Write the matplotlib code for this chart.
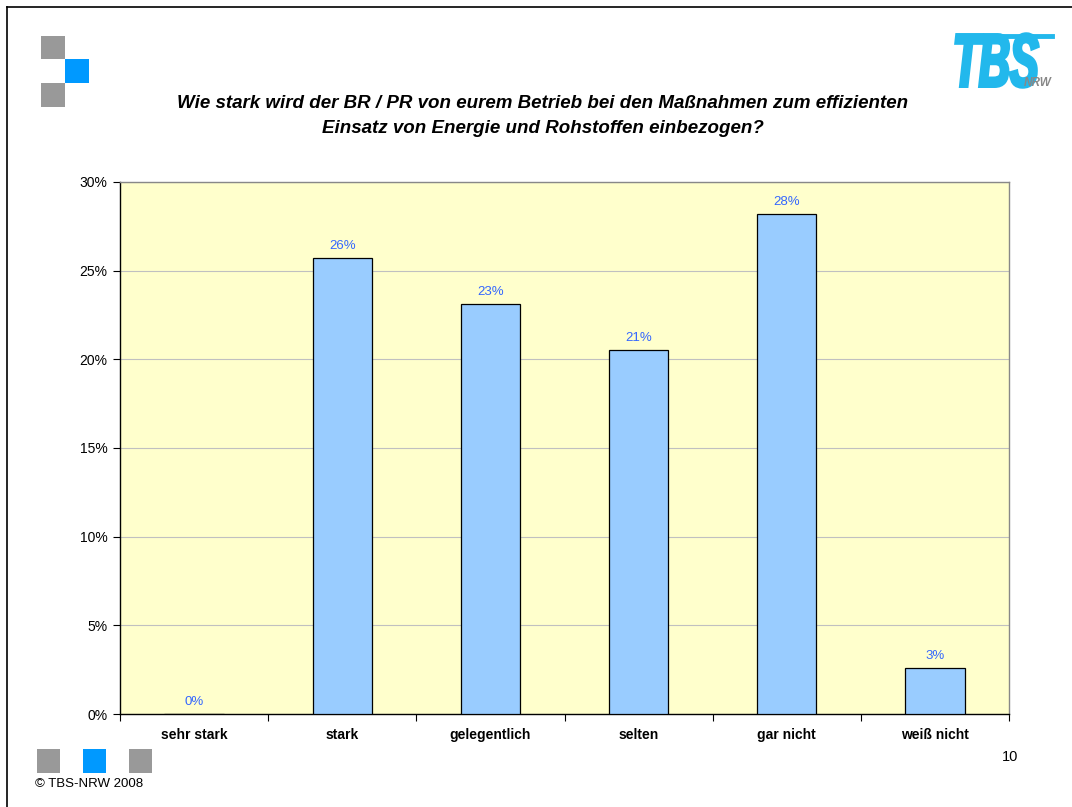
import matplotlib.pyplot as plt
from matplotlib.patches import Rectangle, PathPatch
from matplotlib.lines import Line2D
from matplotlib.textpath import TextPath
from matplotlib.font_manager import FontProperties
from matplotlib.transforms import Affine2D
from matplotlib.ticker import FuncFormatter, FixedLocator
import numpy as np

plt.rcParams['font.family'] = ['Liberation Sans', 'DejaVu Sans']

# Daten
kategorien = ['sehr stark', 'stark', 'gelegentlich', 'selten', 'gar nicht', 'weiß nicht']
werte = [0.0, 25.7, 23.1, 20.5, 28.2, 2.6]
titel = ('Wie stark wird der BR / PR von eurem Betrieb bei den Maßnahmen zum effizienten\n'
         'Einsatz von Energie und Rohstoffen einbezogen?')

W, H = 1072, 807
fig = plt.figure(figsize=(W / 100, H / 100), dpi=100)
fig.patch.set_facecolor('white')


def px(x, y):
    # Pixel (oben links) -> Figure-Koordinaten
    return x / W, 1 - y / H


def quadrat(x0, y0, x1, y1, farbe):
    fx, fy = px(x0, y1)
    fig.add_artist(Rectangle((fx, fy), (x1 - x0) / W, (y1 - y0) / H,
                             transform=fig.transFigure, facecolor=farbe, edgecolor='none'))


# Rahmen oben und links
fig.add_artist(Line2D([7 / W, 1], [1 - 7 / H, 1 - 7 / H], transform=fig.transFigure, color='black', lw=1.2))
fig.add_artist(Line2D([7 / W, 7 / W], [0, 1 - 7 / H], transform=fig.transFigure, color='black', lw=1.2))

# Quadrate oben links
quadrat(41, 36, 65, 59, '#999999')
quadrat(65, 59, 89, 83, '#0099FF')
quadrat(41, 83, 65, 107, '#999999')

# Quadrate unten links
quadrat(37, 749, 60, 773, '#999999')
quadrat(83, 749, 106, 773, '#0099FF')
quadrat(129, 749, 152, 773, '#999999')

# Logo: "TBS" als gestreckter Textpfad
tp = TextPath((0, 0), 'TBS', prop=FontProperties(family='Liberation Sans', weight='bold', style='italic'))
bb = tp.get_extents()
x0, y0, x1, y1 = 956, 34, 1038, 87
trans = (Affine2D().translate(-bb.x0, -bb.y0)
         .scale((x1 - x0) / W / bb.width, (y1 - y0) / H / bb.height)
         .translate(x0 / W, 1 - y1 / H) + fig.transFigure)
fig.add_artist(PathPatch(tp, transform=trans, facecolor='#22B8EC', edgecolor='#22B8EC', lw=2.5))
fig.add_artist(Line2D([975 / W, 1052 / W], [1 - 36 / H, 1 - 36 / H], transform=fig.transFigure,
                      color='#22B8EC', lw=3.5))
fig.text(*px(1052, 83), 'NRW', color='#888888', fontsize=8.5, fontweight='bold',
         fontstyle='italic', ha='right', va='center')

# Titel
fig.text(*px(543, 116), titel, ha='center', va='center', fontsize=13.5, fontweight='bold',
         fontstyle='italic', linespacing=1.55)

# Fusszeile
fig.text(*px(35, 784), '© TBS-NRW 2008', fontsize=9.5, va='center', ha='left')
fig.text(*px(1018, 757), '10', fontsize=10.5, va='center', ha='right')

# Diagramm
ax = fig.add_axes([120 / W, 1 - 714 / H, (1009 - 120) / W, (714 - 182) / H])
ax.set_facecolor('#FFFFCC')
x = np.arange(len(kategorien))
ax.bar(x, werte, width=0.4, color='#99CCFF', edgecolor='black', linewidth=0.9, zorder=3)
for xi, v in zip(x, werte):
    ax.text(xi, v + 0.35, f'{int(v + 0.5)}%', ha='center', va='bottom', color='#3366FF', fontsize=9.5)

ax.set_xlim(-0.5, len(kategorien) - 0.5)
ax.set_ylim(0, 30)
ax.set_yticks(np.arange(0, 31, 5))
ax.yaxis.set_major_formatter(FuncFormatter(lambda v, p: f'{v:.0f}%'))
ax.yaxis.grid(True, color='#C0C0C0', linewidth=0.8, zorder=0)
ax.set_axisbelow(True)

# Teilstriche zwischen den Kategorien, Beschriftung mittig (gemeinsame Grundlinie)
ax.xaxis.set_major_locator(FixedLocator(np.arange(-0.5, len(kategorien), 1)))
ax.set_xticklabels([])
ax.tick_params(axis='x', which='major', length=5, direction='out', color='black')
for xi, k in zip(x, kategorien):
    ax.text(xi, -0.047, k, transform=ax.get_xaxis_transform(), ha='center', va='baseline',
            fontweight='bold', fontsize=10)
ax.tick_params(axis='y', length=5, direction='out', labelsize=10, pad=4)

ax.spines['top'].set_color('#888888')
ax.spines['right'].set_color('#888888')
ax.spines['left'].set_color('black')
ax.spines['bottom'].set_color('black')
for s in ax.spines.values():
    s.set_linewidth(1.0)

fig.savefig('out.png', dpi=100)
